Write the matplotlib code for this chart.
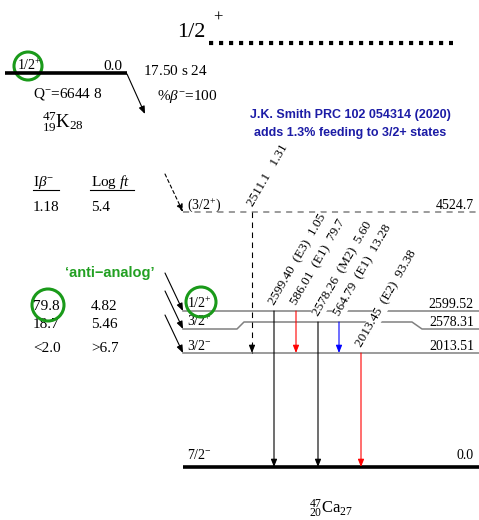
import numpy as np
import matplotlib
matplotlib.use('Agg')
import matplotlib.pyplot as plt
from matplotlib.patches import Circle

plt.rcParams['font.family'] = ['Liberation Serif', 'DejaVu Serif']
plt.rcParams['mathtext.fontset'] = 'custom'
plt.rcParams['mathtext.rm'] = 'Liberation Serif'
plt.rcParams['mathtext.it'] = 'Liberation Serif:italic'
plt.rcParams['mathtext.bf'] = 'Liberation Serif:bold'

# parent 47K
parent_spin = r'1/2$^{+}$'
parent_energy = '0.0'
parent_halflife = r'17.50 s $\mathit{24}$'
parent_branch = r'%$\beta^{-}$=100'
parent_q = r'Q$^{-}$=6644 $\mathit{8}$'
parent_name = r'$\mathrm{{}^{47}_{19}K_{28}}$'
daughter_name = r'$\mathrm{{}^{47}_{20}Ca_{27}}$'

# daughter 47Ca levels
level_energy = [0.0, 2013.51, 2578.31, 2599.52, 4524.7]
level_label = ['0.0', '2013.51', '2578.31', '2599.52', '4524.7']
level_spin = [r'7/2$^{-}$', r'3/2$^{-}$', r'3/2$^{+}$', r'1/2$^{+}$', r'(3/2$^{+}$)']
level_kind = ['ground', 'solid', 'bump', 'solid', 'dashed']

# beta feeding
beta_level = [4524.7, 2599.52, 2578.31, 2013.51]
beta_ib = ['1.18', '79.8', '18.7', '<2.0']
beta_logft = ['5.4', '4.82', '5.46', '>6.7']

# gamma rays
gamma_ei = [4524.7, 2599.52, 2599.52, 2578.31, 2578.31, 2013.51]
gamma_ef = [2013.51, 0.0, 2013.51, 0.0, 2013.51, 0.0]
gamma_text = ['2511.1   1.31', '2599.40  (E3)  1.05', '586.01  (E1)  79.7',
              '2578.26  (M2)  5.60', '564.79  (E1)  13.28', '2013.45  (E2)  93.38']
gamma_color = ['black', 'black', 'red', 'black', 'blue', 'red']
gamma_x = [252, 274, 296, 318, 339, 361]

note_lines = ['J.K. Smith PRC 102 054314 (2020)', 'adds 1.3% feeding to 3/2+ states']

fig = plt.figure(figsize=(4.79, 5.20), dpi=100)
ax = fig.add_axes([0, 0, 1, 1])
ov = fig.add_axes([0, 0, 1, 1])
for a in (ax, ov):
    a.set_axis_off()
ov.patch.set_visible(False)
ov.set_xlim(0, 479)
ov.set_ylim(520, 0)
ax.set_xlim(0, 479)

# level scheme spacing (energy -> drawing height)
scale_e = [-1000, 0, 2013.51, 2578.31, 2599.52, 4524.7, 9000]
scale_h = [-4, 53, 167, 198, 209, 308, 563]


def fwd(e):
    return np.interp(e, scale_e, scale_h)


def inv(h):
    return np.interp(h, scale_h, scale_e)


ax.set_yscale('function', functions=(fwd, inv))
ax.set_ylim(inv(0), inv(520))

X0, X1 = 183, 479
GRAY = '#808080'
side_e = {}
for e, lab, spin, kind in zip(level_energy, level_label, level_spin, level_kind):
    es = e
    if kind == 'ground':
        ax.plot([X0, X1], [e, e], color='black', lw=2.6, solid_capstyle='butt', zorder=1)
    elif kind == 'dashed':
        ax.plot([X0, X1], [e, e], color=GRAY, lw=1.1, ls=(0, (4, 3.5)), zorder=1)
    elif kind == 'bump':
        es = inv(fwd(e) - 7)
        ax.plot([X0, 237, 244, 412, 422, X1], [es, es, e, e, es, es], color=GRAY, lw=1.1, zorder=1)
    else:
        ax.plot([X0, X1], [e, e], color=GRAY, lw=1.1, zorder=1)
    side_e[e] = es
    dy = 8 if kind == 'ground' else 3
    ax.annotate(spin, xy=(187, es), xytext=(0, dy), textcoords='offset pixels',
                ha='left', va='baseline', fontsize=10)
    ax.annotate(lab, xy=(474, es), xytext=(0, dy), textcoords='offset pixels',
                ha='right', va='baseline', fontsize=10)

# beta branches
for e, ib, lft in zip(beta_level, beta_ib, beta_logft):
    es = side_e[e]
    ls = (0, (3, 2.5)) if e == 4524.7 else '-'
    ax.annotate('', xy=(X0, es), xytext=(-18, 38), textcoords='offset pixels',
                arrowprops=dict(arrowstyle='-|>,head_length=0.5,head_width=0.2', color='black',
                                lw=0.8, ls=ls, shrinkA=0, shrinkB=0, mutation_scale=9))
    ax.annotate(ib, xy=(33, es), xytext=(0, 1), textcoords='offset pixels',
                ha='left', va='baseline', fontsize=11)
    ax.annotate(lft, xy=(91, es), xytext=(0, 1), textcoords='offset pixels',
                ha='left', va='baseline', fontsize=11)

# gamma rays
for ei, ef, txt, col, x in zip(gamma_ei, gamma_ef, gamma_text, gamma_color, gamma_x):
    if ei == 4524.7:
        ax.plot([x, x], [ei, ef], color=col, lw=0.8, ls=(0, (5, 4)), zorder=2)
        ax.annotate('', xy=(x, ef), xytext=(0, 8), textcoords='offset pixels',
                    arrowprops=dict(arrowstyle='-|>,head_length=0.5,head_width=0.2', color=col,
                                    lw=0.8, shrinkA=0, shrinkB=0, mutation_scale=9), zorder=2)
    else:
        ax.annotate('', xy=(x, ef), xytext=(x, ei),
                    arrowprops=dict(arrowstyle='-|>,head_length=0.5,head_width=0.2', color=col,
                                    lw=0.8, shrinkA=0, shrinkB=0, mutation_scale=9), zorder=2)
    ax.annotate(txt, xy=(x, ei), xytext=(1, 5), textcoords='offset pixels',
                rotation=60, rotation_mode='anchor', ha='left', va='baseline', fontsize=9.5,
                bbox=dict(boxstyle='square,pad=0.05', fc='white', ec='none'), zorder=4)

# parent level
ov.plot([5, 127], [73, 73], color='black', lw=2.6, solid_capstyle='butt')
ov.text(17, 70, parent_spin, fontsize=10, ha='left', va='baseline')
ov.text(122, 70, parent_energy, fontsize=11, ha='right', va='baseline')
ov.text(143, 75, parent_halflife, fontsize=11, ha='left', va='baseline')
ov.text(157, 100, parent_branch, fontsize=11, ha='left', va='baseline')
ov.text(33, 97, parent_q, fontsize=11, ha='left', va='baseline')
ov.text(42, 128, parent_name, fontsize=13.5, ha='left', va='baseline')
ov.annotate('', xy=(145, 114), xytext=(127, 74),
            arrowprops=dict(arrowstyle='-|>,head_length=0.5,head_width=0.2', color='black',
                            lw=0.8, shrinkA=0, shrinkB=0, mutation_scale=9))

# table header
ov.text(33, 186, r'I$\beta^{-}$', fontsize=11, ha='left', va='baseline')
ov.text(91, 186, r'Log $\mathit{ft}$', fontsize=11, ha='left', va='baseline')
ov.plot([33, 59], [190, 190], color='black', lw=0.8)
ov.plot([90, 134], [190, 190], color='black', lw=0.8)

# isobaric analog marker
ov.text(177, 37, '1/2', fontsize=16, ha='left', va='baseline')
ov.text(218, 18, '+', fontsize=12, ha='center', va='center')
ov.plot([209, 453], [43, 43], color='black', lw=3, ls=(0, (1, 1.4)))

# annotations
ov.text(350, 115, note_lines[0], fontsize=9, fontweight='bold', color='#1c1ca6',
        family=['Liberation Sans', 'DejaVu Sans'], ha='center', va='center')
ov.text(350, 133, note_lines[1], fontsize=9, fontweight='bold', color='#1c1ca6',
        family=['Liberation Sans', 'DejaVu Sans'], ha='center', va='center')
ov.text(110, 273, '\u2018anti\u2212analog\u2019', fontsize=10.5, fontweight='bold', color='#22a022',
        family=['Liberation Sans', 'DejaVu Sans'], ha='center', va='center')

for cx, cy, r in [(28, 66, 14), (48, 305, 16), (201, 302, 15)]:
    ov.add_patch(Circle((cx, cy), r, fill=False, ec='#1a9a1a', lw=2.2))

ov.text(331, 514, daughter_name, fontsize=12, ha='center', va='baseline')

fig.savefig('out.png', dpi=100)
